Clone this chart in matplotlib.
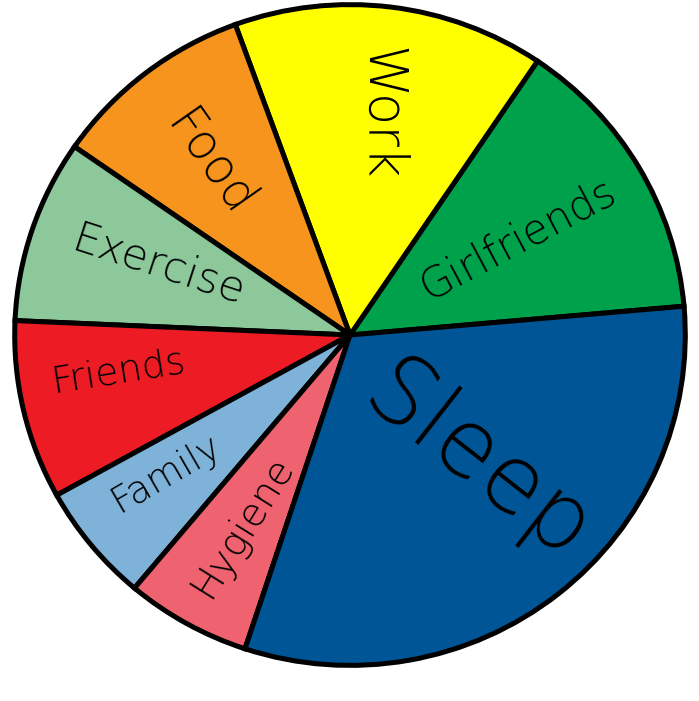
import matplotlib
matplotlib.use("Agg")
import matplotlib.pyplot as plt

# hours per day
labels = ["Girlfriends", "Work", "Food", "Exercise", "Friends", "Family", "Hygiene", "Sleep"]
hours = [3.4, 3.6, 2.35, 2.15, 2.1, 1.4, 1.45, 7.55]
colors = ["#00a14b", "#ffff00", "#f7941d", "#8dc89b", "#ed1c24", "#7fb2d8", "#ee636f", "#005596"]

# label placement (x, y, rotation, size)
lab_pos = {
    "Girlfriends": (0.50, 0.29, 28, 30),
    "Work": (0.09, 0.67, -90, 38),
    "Food": (-0.42, 0.52, -55, 35),
    "Exercise": (-0.57, 0.21, -18, 31),
    "Friends": (-0.69, -0.11, 9, 27),
    "Family": (-0.55, -0.42, 30, 27),
    "Hygiene": (-0.32, -0.58, 58, 28),
    "Sleep": (0.38, -0.39, -38, 68),
}

fig = plt.figure(figsize=(6.99, 7.01), dpi=100)
ax = fig.add_axes([8/699, 29/701, 684/699, 674/701])
ax.pie(hours, colors=colors, startangle=5, counterclock=True,
       wedgeprops=dict(edgecolor="black", linewidth=3.6))
for name in labels:
    x, y, rot, fs = lab_pos[name]
    ax.text(x, y, name, rotation=rot, fontsize=fs, ha="center", va="center",
            rotation_mode="anchor", color="black", fontweight="light")
ax.set_xlim(-1.02, 1.02)
ax.set_ylim(-1.02, 1.02)
ax.set_aspect("auto")
ax.axis("off")
fig.savefig("out.png", dpi=100)
